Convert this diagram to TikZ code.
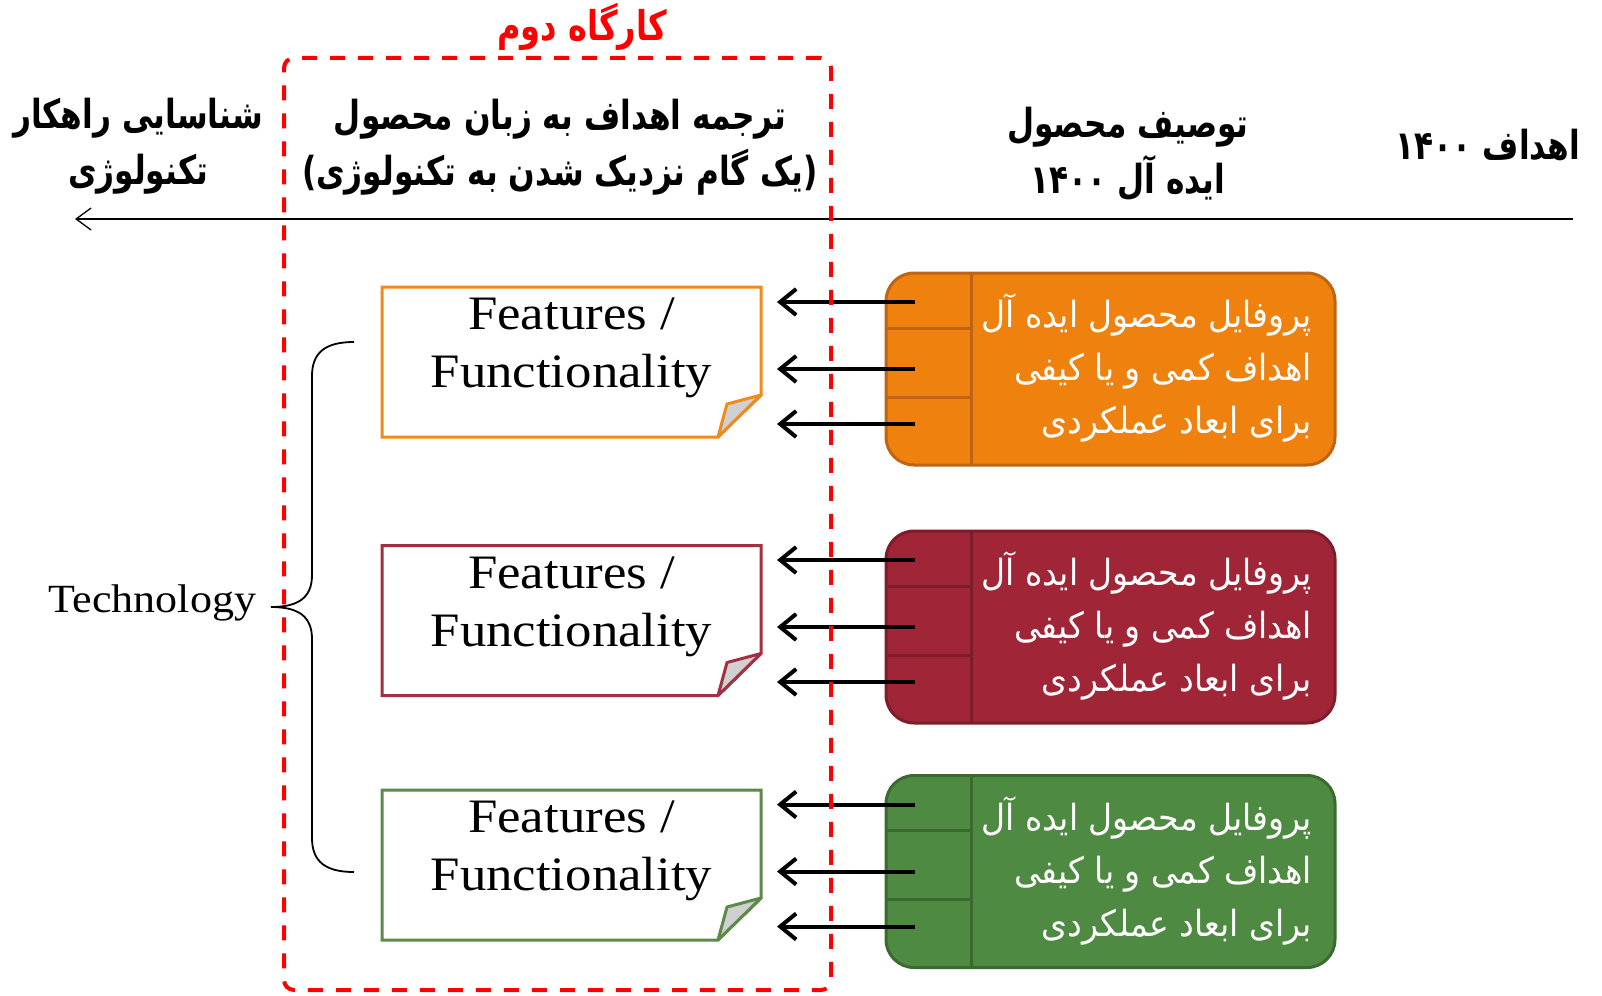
\documentclass[tikz,border=0pt]{standalone}
\usepackage{fontspec}
\usetikzlibrary{arrows.meta}
\TeXXeTstate=1
\newfontfamily\fahead[Script=Arabic, FakeStretch=0.78]{DejaVu Sans}
\newfontfamily\fabody[Script=Arabic, FakeStretch=0.92]{DejaVu Sans}
\newfontfamily\lat{Liberation Serif}[FakeStretch=1.1]

\definecolor{wsred}{RGB}{255,0,0}
\definecolor{foldgray}{RGB}{208,208,208}
\definecolor{orfill}{RGB}{239,129,14}
\definecolor{ordraw}{RGB}{190,100,20}
\definecolor{rdfill}{RGB}{160,38,55}
\definecolor{rddraw}{RGB}{125,28,42}
\definecolor{grfill}{RGB}{79,138,66}
\definecolor{grdraw}{RGB}{59,106,48}
\definecolor{orline}{RGB}{240,138,28}
\definecolor{rdline}{RGB}{163,48,64}
\definecolor{grline}{RGB}{92,138,74}

\tikzset{
  every node/.style={inner sep=0pt, outer sep=0pt},
  headtxt/.style={font=\fahead\bfseries\fontsize{40}{56}\selectfont, align=center},
  titletxt/.style={font=\fahead\bfseries\fontsize{41}{46}\selectfont, text=wsred},
  goaltxt/.style={font=\fabody\fontsize{36}{53}\selectfont, text=white, align=right},
  feattxt/.style={font=\lat\fontsize{48}{58}\selectfont, align=center},
  featbox/.style={minimum width=379pt, minimum height=150pt},
  notebox/.style={line width=3pt, fill=white, line join=miter},
  foldcorner/.style={line width=3pt, fill=foldgray, line join=round},
  goalbox/.style={rounded corners=28pt, line width=3pt, minimum width=449pt, minimum height=192pt},
  divider/.style={line width=3pt},
  goalarrow/.style={line width=4pt, -{Straight Barb[length=16pt,width=26pt]}},
  timeline/.style={line width=1.3pt, -{Straight Barb[length=15pt,width=22pt]}},
  workshop/.style={draw=wsred, line width=4pt, dash pattern=on 15pt off 13pt,
    rounded corners=10pt, minimum width=547pt, minimum height=932pt},
  bracket/.style={line width=1.8pt},
}

% a note with a folded bottom-right corner, drawn round a named node
\newcommand\drawnote[2]{%
  \draw[notebox, draw=#2] (#1.north west) -- (#1.north east) -- ([yshift=42pt]#1.south east)
    -- ([xshift=-43pt]#1.south east) -- (#1.south west) -- cycle;
  \draw[foldcorner, draw=#2] ([yshift=42pt]#1.south east) -- ([xshift=-34pt,yshift=33pt]#1.south east)
    -- ([xshift=-43pt]#1.south east) -- cycle;
  \node[feattxt] at ([yshift=14pt]#1.center) {Features /\\Functionality};
}

% a rounded goal box with its left column split in three rows
\newcommand\drawgoal[3]{%
  \node[goalbox, fill=#2, draw=#3] (#1) at (1110.5,\gy) {};
  \draw[divider, draw=#3] ([xshift=85pt]#1.north west) -- ([xshift=85pt]#1.south west);
  \draw[divider, draw=#3] ([yshift=-55pt]#1.north west) -- ([xshift=85pt,yshift=-55pt]#1.north west);
  \draw[divider, draw=#3] ([yshift=-124pt]#1.north west) -- ([xshift=85pt,yshift=-124pt]#1.north west);
  \node[goaltxt, anchor=east] at ([xshift=-23pt,yshift=-95pt]#1.north east)
    {\beginR پروفایل محصول ایده آل\endR\\\beginR اهداف کمی و یا کیفی\endR\\\beginR برای ابعاد عملکردی\endR};
  \coordinate (#1a) at ([xshift=29pt,yshift=-29pt]#1.north west);
  \coordinate (#1b) at ([xshift=29pt,yshift=-96pt]#1.north west);
  \coordinate (#1c) at ([xshift=29pt,yshift=-151pt]#1.north west);
}

\begin{document}
\begin{tikzpicture}[x=1pt,y=-1pt]
  \useasboundingbox[fill=white] (0,0) rectangle (1602,995);

  % column headings along the time line
  \node[headtxt] (hsol) at (138,146) {\beginR شناسایی راهکار\endR\\\beginR تکنولوژی\endR};
  \node[headtxt] (htrans) at (560,147) {\beginR ترجمه اهداف به زبان محصول\endR\\\beginR (یک گام نزدیک شدن به تکنولوژی)\endR};
  \node[headtxt] (hdesc) at (1128,154) {\beginR توصیف محصول\endR\\\beginR ایده آل \beginL ۱۴۰۰\endL\endR};
  \node[headtxt] (hgoal) at (1488,145) {\beginR اهداف \beginL ۱۴۰۰\endL\endR};

  % time line, right to left
  \coordinate (tlR) at (1573,219);
  \coordinate (tlL) at (75,219);
  \draw[timeline] (tlR) -- (tlL);

  % feature notes
  \node[featbox] (f1) at (571.5,362) {};
  \node[featbox] (f2) at (571.5,620.5) {};
  \node[featbox] (f3) at (571.5,865) {};
  \drawnote{f1}{orline}
  \drawnote{f2}{rdline}
  \drawnote{f3}{grline}

  % goal boxes
  \def\gy{369}\drawgoal{g1}{orfill}{ordraw}
  \def\gy{627}\drawgoal{g2}{rdfill}{rddraw}
  \def\gy{871.5}\drawgoal{g3}{grfill}{grdraw}

  \coordinate (f1r) at ([xshift=16pt]f1.east);
  \coordinate (f2r) at ([xshift=16pt]f2.east);
  \coordinate (f3r) at ([xshift=16pt]f3.east);
  \foreach \g/\f in {g1/f1r, g2/f2r, g3/f3r}{
    \foreach \r in {a,b,c}{
      \draw[goalarrow] (\g\r) -- (\f |- \g\r);
    }
  }

  % technology bracket
  \node[font=\lat\fontsize{40}{48}\selectfont, anchor=east] (tech) at (256,603) {Technology};
  \draw[bracket] (354,342) .. controls (326,342) and (312,352) .. (312,376) -- (312,575)
    .. controls (312,598) and (298,607) .. (271,607)
    .. controls (298,607) and (312,616) .. (312,639) -- (312,838)
    .. controls (312,862) and (326,872) .. (354,872);

  % second workshop frame
  \node[workshop] (ws) at (557.5,524) {};
  \node[titletxt] (wstitle) at (582,27) {\beginR کارگاه دوم\endR};
\end{tikzpicture}
\end{document}
